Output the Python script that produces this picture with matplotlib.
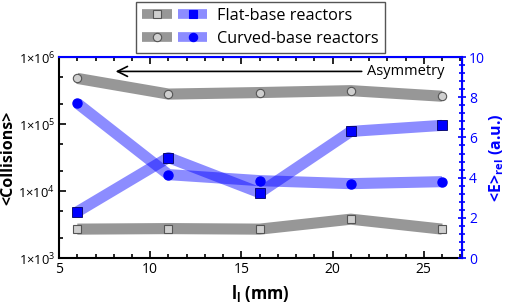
import math

import matplotlib
matplotlib.use("Agg")
import matplotlib.pyplot as plt
from matplotlib.lines import Line2D
from matplotlib.legend_handler import HandlerTuple
from matplotlib.ticker import FixedLocator, MultipleLocator, FuncFormatter, NullFormatter

plt.rcParams["font.family"] = ["Open Sans", "DejaVu Sans"]
plt.rcParams["mathtext.fontset"] = "custom"
plt.rcParams["mathtext.rm"] = "Open Sans"
plt.rcParams["mathtext.it"] = "Open Sans:italic"
plt.rcParams["mathtext.bf"] = "Open Sans:bold"

# data
lengths = [6, 11, 16, 21, 26]
coll_flat = [2700, 2750, 2700, 3800, 2700]
coll_curved = [4.8e5, 2.8e5, 2.95e5, 3.15e5, 2.6e5]
e_flat = [2.3, 5.0, 3.25, 6.3, 6.6]
e_curved = [7.7, 4.15, 3.85, 3.7, 3.8]
legend_labels = ["Flat-base reactors", "Curved-base reactors"]

GRAY = "#979797"
GRAY_FACE = "#cfcfcf"
GRAY_EDGE = "#555555"
BLUE_BAND = (0.0, 0.0, 1.0, 0.45)
BLUE = "#0000ff"
LW = 8

fig = plt.figure(figsize=(5.05, 3.05), dpi=100)
ax = fig.add_axes([0.117, 0.154, 0.798, 0.659])
ax2 = ax.twinx()

ax.plot(lengths, coll_curved, color=GRAY, lw=LW, solid_capstyle="butt",
        marker="o", ms=6, mfc=GRAY_FACE, mec=GRAY_EDGE, mew=0.8)
ax.plot(lengths, coll_flat, color=GRAY, lw=LW, solid_capstyle="butt",
        marker="s", ms=6, mfc=GRAY_FACE, mec=GRAY_EDGE, mew=0.8)
ax2.plot(lengths, e_curved, color=BLUE_BAND, lw=LW, solid_capstyle="butt",
         marker="o", ms=6.5, mfc=BLUE, mec=BLUE)
ax2.plot(lengths, e_flat, color=BLUE_BAND, lw=LW, solid_capstyle="butt",
         marker="s", ms=6.5, mfc=BLUE, mec="#000060", mew=0.6)

ax.set_yscale("log")
ax.set_ylim(1e3, 1e6)
ax.set_xlim(5, 27.1)
ax2.set_ylim(0, 10)

ax.yaxis.set_major_locator(FixedLocator([1e3, 1e4, 1e5, 1e6]))
ax.yaxis.set_minor_locator(FixedLocator([2e3, 5e3, 2e4, 5e4, 2e5, 5e5]))
ax.yaxis.set_minor_formatter(NullFormatter())
ax.yaxis.set_major_formatter(
    FuncFormatter(lambda v, p: r"1×10$^{%d}$" % round(math.log10(v))))
ax.xaxis.set_major_locator(MultipleLocator(5))
ax.xaxis.set_minor_locator(MultipleLocator(1))
ax2.yaxis.set_major_locator(MultipleLocator(2))
ax2.yaxis.set_minor_locator(MultipleLocator(0.4))

ax.tick_params(which="both", direction="in", top=True, labelsize=10, width=1.2)
ax.tick_params(axis="y", labelsize=9.3)
ax.tick_params(which="major", length=5, pad=3)
ax.tick_params(which="minor", length=3)
ax2.tick_params(which="both", direction="inout", colors=BLUE, labelsize=10, width=1.2)
ax2.tick_params(which="major", length=6, pad=2)
ax2.tick_params(which="minor", length=4)

for s in ["left", "bottom"]:
    ax.spines[s].set_linewidth(1.5)
for s in ["top", "right"]:
    ax2.spines[s].set_color(BLUE)
    ax2.spines[s].set_linewidth(1.5)
ax2.spines["left"].set_visible(False)
ax2.spines["bottom"].set_visible(False)

ax.set_ylabel("<Collisions>", fontsize=11.5, fontweight="bold", labelpad=1)
ax.set_xlabel(r"$\mathbf{l_l}$ (mm)", fontsize=12, fontweight="bold", labelpad=4)
ax2.set_ylabel(r"<E>$_{\mathbf{rel}}$ (a.u.)", fontsize=11.5, fontweight="bold",
               color=BLUE, labelpad=2)

ax.annotate("Asymmetry", xy=(8.1, 6.1e5), xytext=(21.9, 6.1e5),
            fontsize=10.5, va="center",
            arrowprops=dict(arrowstyle="->", color="black", lw=1.2,
                            mutation_scale=18, shrinkA=2, shrinkB=0))


def band(face, edge, mk, col):
    return Line2D([0], [0], color=col, lw=7, solid_capstyle="butt",
                  marker=mk, ms=6, mfc=face, mec=edge, mew=0.8)


h_flat = (band(GRAY_FACE, GRAY_EDGE, "s", GRAY), band(BLUE, BLUE, "s", BLUE_BAND))
h_curved = (band(GRAY_FACE, GRAY_EDGE, "o", GRAY), band(BLUE, BLUE, "o", BLUE_BAND))
fig.legend([h_flat, h_curved], legend_labels,
           handler_map={tuple: HandlerTuple(ndivide=None, pad=0.37)},
           loc="upper left", bbox_to_anchor=(0.269, 0.995), fontsize=11.7,
           handlelength=4.0, handletextpad=0.6, labelspacing=0.4,
           borderpad=0.4, borderaxespad=0, fancybox=False,
           edgecolor="#555555", framealpha=1)

fig.savefig("out.png", dpi=100)
